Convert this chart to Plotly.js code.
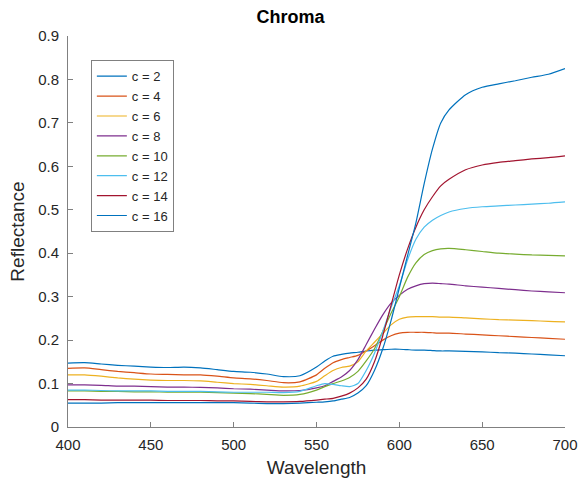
<!DOCTYPE html>
<html><head><meta charset="utf-8">
<script src="https://cdn.plot.ly/plotly-3.0.1.min.js"></script>
<style>html,body{margin:0;padding:0;background:#fff}</style>
</head><body>
<div id="chart" style="width:581px;height:484px"></div>
<script>
const wavelength = [400,410,420,430,440,450,460,470,480,490,500,510,520,530,540,550,555,560,565,570,575,580,585,590,595,600,605,610,615,620,625,630,640,650,660,670,680,690,700];
const seriesNames = ["c = 2","c = 4","c = 6","c = 8","c = 10","c = 12","c = 14","c = 16"];
const c2  = [.147,.148,.145,.142,.140,.138,.137,.138,.136,.132,.128,.126,.122,.116,.118,.138,.152,.163,.167,.170,.172,.175,.177,.178,.179,.179,.178,.177,.177,.176,.175,.175,.174,.173,.171,.170,.168,.166,.164];
const c4  = [.135,.136,.132,.128,.125,.122,.121,.120,.120,.117,.113,.111,.107,.102,.104,.120,.135,.148,.155,.160,.165,.175,.187,.200,.210,.216,.218,.218,.218,.217,.216,.216,.214,.212,.210,.208,.206,.204,.202];
const c6  = [.120,.120,.117,.113,.110,.108,.107,.107,.106,.103,.100,.098,.095,.092,.094,.105,.118,.130,.137,.140,.150,.175,.195,.215,.235,.248,.253,.254,.254,.254,.253,.253,.251,.249,.247,.246,.245,.243,.242];
const c8  = [.097,.097,.096,.094,.094,.093,.092,.092,.091,.090,.088,.087,.085,.083,.084,.090,.095,.105,.115,.130,.155,.190,.225,.258,.285,.303,.317,.325,.330,.331,.330,.329,.325,.322,.319,.316,.313,.311,.309];
const c10 = [.083,.083,.082,.082,.081,.081,.080,.080,.080,.079,.078,.077,.075,.073,.075,.085,.093,.100,.106,.114,.128,.152,.180,.220,.262,.300,.345,.378,.397,.406,.410,.411,.408,.404,.400,.398,.396,.395,.394];
const c12 = [.085,.085,.084,.083,.083,.083,.082,.082,.082,.081,.080,.080,.080,.079,.082,.095,.100,.098,.095,.093,.100,.130,.170,.220,.275,.325,.385,.432,.460,.476,.487,.495,.503,.507,.509,.511,.513,.515,.518];
const c14 = [.063,.063,.062,.062,.062,.062,.061,.061,.061,.060,.060,.059,.058,.058,.059,.062,.064,.066,.071,.078,.090,.110,.150,.210,.280,.350,.410,.460,.500,.530,.555,.570,.592,.603,.609,.613,.617,.620,.624];
const c16 = [.055,.055,.055,.056,.056,.056,.056,.056,.056,.056,.056,.055,.054,.054,.055,.057,.058,.060,.064,.068,.078,.095,.130,.180,.245,.320,.395,.470,.560,.640,.700,.730,.765,.782,.790,.797,.805,.812,.825];
const seriesValues = [c2,c4,c6,c8,c10,c12,c14,c16];
const colors = ["#0072BD","#D95319","#EDB120","#7E2F8E","#77AC30","#4DBEEE","#A2142F","#0072BD"];

const traces = seriesValues.map((v,i)=>({
  x: wavelength, y: v, name: seriesNames[i], type: 'scatter', mode: 'lines',
  line: {color: colors[i], width: 1.2, shape: 'spline', smoothing: 0.6}
}));

const font = {family: 'Liberation Sans, Arial, sans-serif', color: '#262626'};
const layout = {
  width: 581, height: 484,
  margin: {l: 68, r: 16, t: 36, b: 57},
  paper_bgcolor: '#fff', plot_bgcolor: '#fff',
  font: Object.assign({size: 15}, font),
  title: {text: '<b>Chroma</b>', x: 0.5, xanchor: 'center', y: 0.965, yanchor: 'middle',
          font: Object.assign({}, font, {size: 18, color: '#000'})},
  xaxis: {range: [400,700], tickvals: [400,450,500,550,600,650,700], ticks: 'inside', ticklen: 5,
          tickcolor: '#808080', showline: true, linecolor: '#808080', linewidth: 1, showgrid: false,
          zeroline: false, tickfont: {size: 15, color: '#262626'}, ticklabelstandoff: 4,
          title: {text: 'Wavelength', font: {size: 19, color: '#262626'}, standoff: 8}},
  yaxis: {range: [0,0.9], tickvals: [0,0.1,0.2,0.3,0.4,0.5,0.6,0.7,0.8,0.9],
          ticktext: ['0','0.1','0.2','0.3','0.4','0.5','0.6','0.7','0.8','0.9'],
          ticks: 'inside', ticklen: 5, tickcolor: '#808080', showline: true, linecolor: '#808080',
          linewidth: 1, showgrid: false, zeroline: false, tickfont: {size: 15, color: '#262626'},
          ticklabelstandoff: 5,
          title: {text: 'Reflectance', font: {size: 19, color: '#262626'}, standoff: 8}},
  showlegend: true,
  legend: {x: 0.046, y: 0.938, xanchor: 'left', yanchor: 'top', bgcolor: '#fff',
           bordercolor: '#808080', borderwidth: 1, font: {size: 13, color: '#262626'},
           tracegroupgap: 0, itemwidth: 30}
};
Plotly.newPlot('chart', traces, layout, {displayModeBar: false, staticPlot: true});
</script>
</body></html>
